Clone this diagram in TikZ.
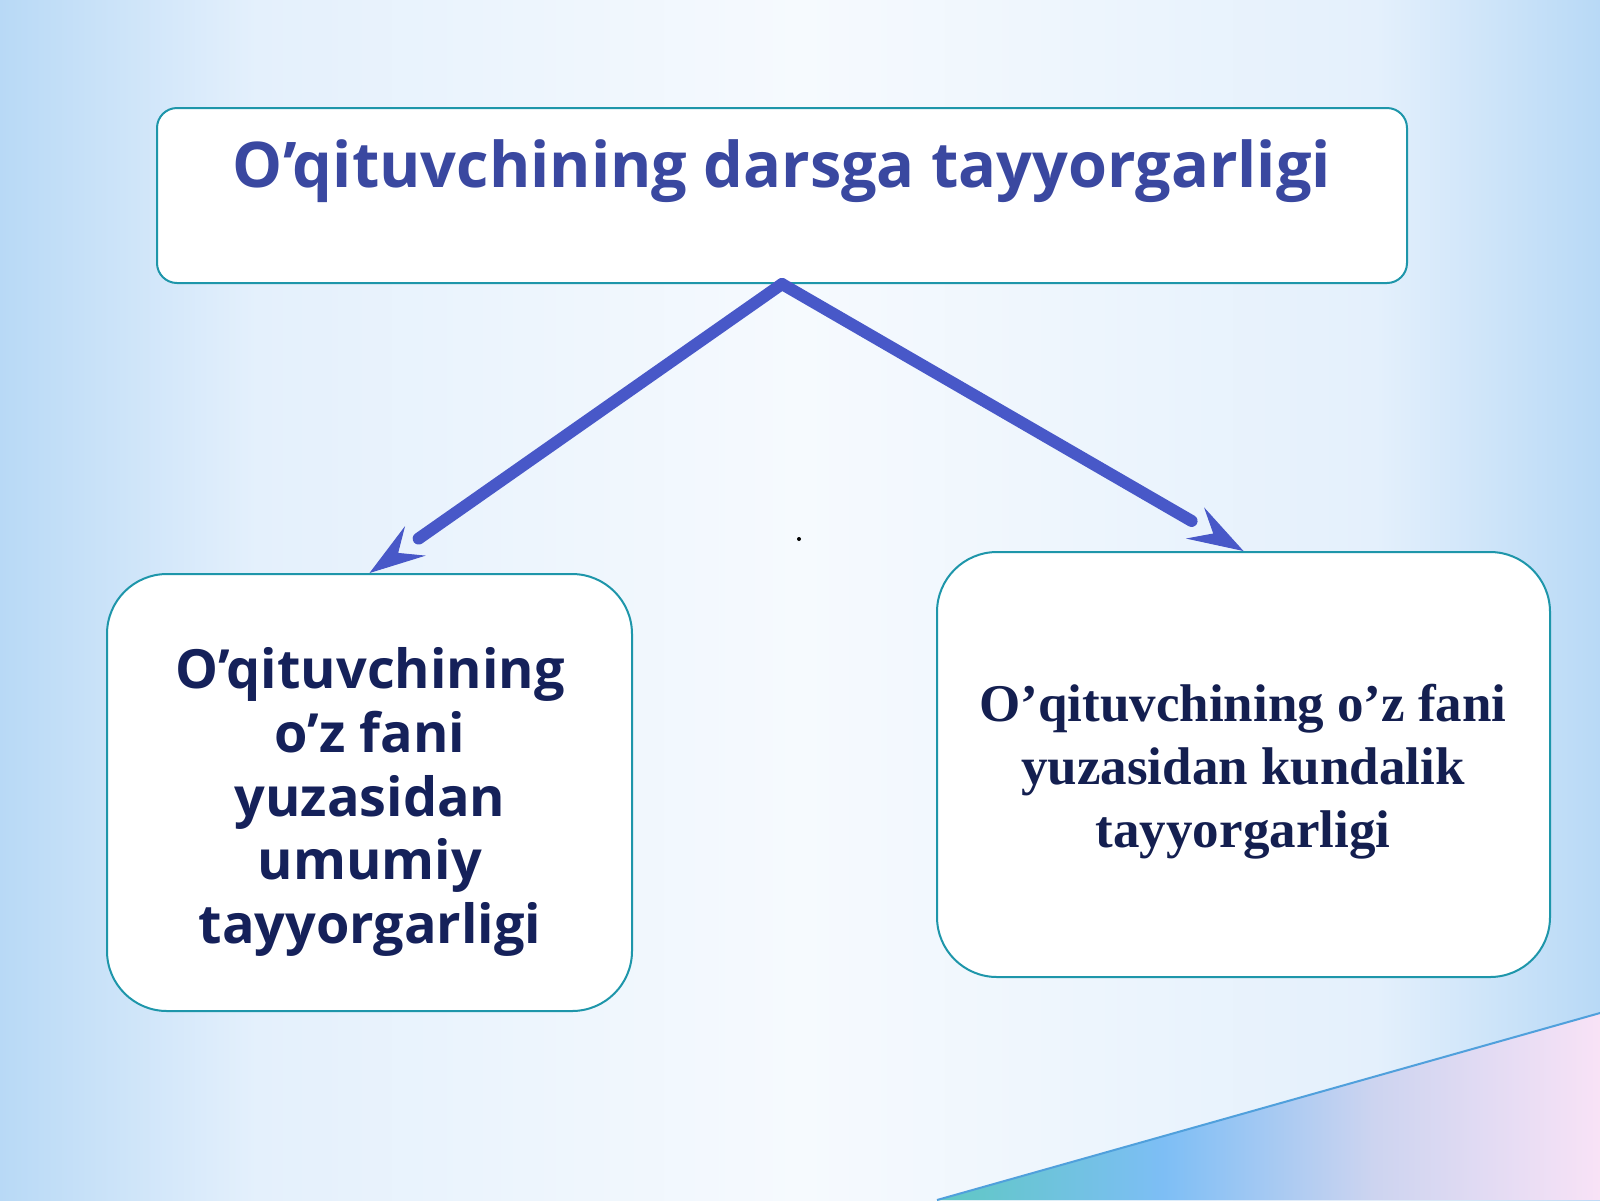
\documentclass[tikz,border=0pt]{standalone}
\usepackage{fontspec}
\newfontfamily\opensans{Open Sans}
\newfontfamily\serifbold{Liberation Serif}
\usetikzlibrary{arrows.meta,calc}
\definecolor{bgedge}{RGB}{184,217,246}
\definecolor{bgnear}{RGB}{228,240,252}
\definecolor{bgcentre}{RGB}{246,250,254}
\definecolor{boxline}{RGB}{30,150,170}
\definecolor{arrowblue}{RGB}{72,88,200}
\definecolor{toptxt}{RGB}{58,72,160}
\definecolor{lefttxt}{RGB}{21,33,90}
\definecolor{righttxt}{RGB}{20,31,80}
\definecolor{triA}{RGB}{95,200,195}
\definecolor{triB}{RGB}{125,190,245}
\definecolor{triC}{RGB}{205,212,240}
\definecolor{triD}{RGB}{248,226,246}
\definecolor{triedge}{RGB}{80,160,220}
\pgfdeclarehorizontalshading{bgshade}{100bp}{color(0bp)=(bgedge);color(25bp)=(bgedge);color(33bp)=(bgnear);color(50bp)=(bgcentre);color(68bp)=(bgnear);color(75bp)=(bgedge);color(100bp)=(bgedge)}
\pgfdeclarehorizontalshading{trishade}{100bp}{color(0bp)=(triA);color(25bp)=(triA);color(42bp)=(triB);color(58bp)=(triC);color(75bp)=(triD);color(100bp)=(triD)}
\begin{document}
\begin{tikzpicture}[x=0.5pt,y=-0.5pt,
  box/.style={draw=boxline, line width=1pt, fill=white, inner sep=0pt},
  toptext/.style={text=toptxt, font=\opensans\bfseries\fontsize{31.5pt}{36pt}\selectfont, inner sep=0pt},
  lefttext/.style={text=lefttxt, align=center, font=\opensans\bfseries\fontsize{27pt}{31.8pt}\selectfont, inner sep=0pt},
  righttext/.style={text=righttxt, align=center, font=\serifbold\bfseries\fontsize{26.5pt}{31.5pt}\selectfont, inner sep=0pt},
  shaft/.style={draw=arrowblue, line width=6pt, line cap=round},
  head/.style={draw=arrowblue, fill=arrowblue, line width=0.5pt, -{Stealth[length=28pt,width=18pt,inset=10.5pt]}},
  dotmark/.style={fill=black, circle, inner sep=0pt, minimum size=2pt}]
\useasboundingbox (0,0) rectangle (1600,1200);
\shade[shading=bgshade] (0,0) rectangle (1600,1200);
\shade[shading=trishade] (937,1200) -- (1600,1013) -- (1600,1200) -- cycle;
\draw[triedge, line width=1pt] (937,1200) -- (1600,1013);

\node[box, rounded corners=10pt, minimum width=625pt, minimum height=87.5pt] (top) at (782,195.5) {};
\node[toptext] (toplabel) at (782,171) {O’qituvchining darsga tayyorgarligi};

\node[box, rounded corners=30pt, minimum width=262.5pt, minimum height=218.5pt] (L) at (369.5,792.5) {};
\node[lefttext] (Llabel) at (370,802) {O’qituvchining\\o’z fani\\yuzasidan\\umumiy\\tayyorgarligi};

\node[box, rounded corners=30pt, minimum width=306.5pt, minimum height=212.5pt] (R) at (1243.5,764.5) {};
\node[righttext] (Rlabel) at (1243,772) {O’qituvchining o’z fani\\yuzasidan kundalik\\tayyorgarligi};

\draw[shaft, shorten >=30pt] (top.south) -- (L.north);
\draw[shaft, shorten >=30pt] (top.south) -- (R.north);
\draw[head] ($(L.north)!15pt!(top.south)$) -- (L.north);
\draw[head] ($(R.north)!15pt!(top.south)$) -- (R.north);

\node[dotmark] (dot) at (799,539) {};
\end{tikzpicture}
\end{document}
